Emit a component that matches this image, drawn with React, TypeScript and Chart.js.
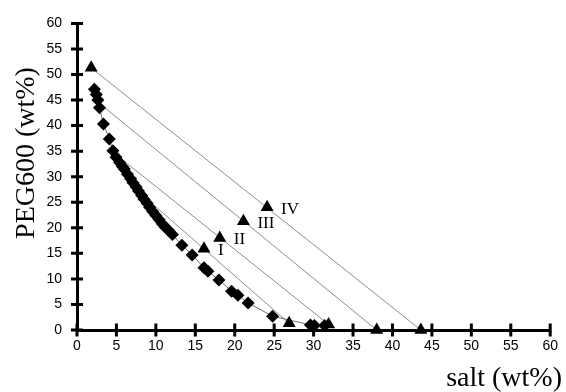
import React, { useEffect, useRef } from "react";
import { Chart, registerables } from "chart.js";

Chart.register(...registerables);

// Binodal curve (diamonds)
const binodalX = [2.2, 2.45, 2.65, 2.85, 3.35, 4.1, 4.55, 4.95, 5.4, 5.75, 6.0, 6.4, 6.8, 7.1, 7.5, 7.8, 8.2, 8.5, 8.9, 9.2, 9.6, 10.0, 10.4, 10.8, 11.2, 11.6, 12.1, 13.3, 14.6, 16.1, 16.6, 18.0, 19.6, 20.4, 21.7, 24.8, 29.6, 30.1, 31.4];
const binodalY = [47.1, 46.1, 45.0, 43.5, 40.3, 37.4, 35.1, 33.8, 32.8, 32.0, 31.5, 30.5, 29.6, 28.8, 28.0, 27.2, 26.3, 25.6, 24.8, 24.0, 23.2, 22.4, 21.6, 20.8, 20.1, 19.5, 18.7, 16.6, 14.7, 12.2, 11.5, 9.8, 7.6, 6.8, 5.3, 2.7, 1.0, 0.9, 0.9];

// Tie lines I..IV (top phase -> bottom phase)
const tieTopX = [8.0, 5.2, 2.8, 1.8];
const tieTopY = [26.8, 34.0, 44.4, 51.3];
const tieBottomX = [26.9, 31.9, 38.0, 43.6];
const tieBottomY = [1.3, 1.1, 0.0, 0.0];

// Tie-line end points drawn as triangles
const endTriX = [1.8, 26.9, 31.9, 38.0, 43.6];
const endTriY = [51.3, 1.3, 1.1, 0.0, 0.0];

// Mixture (feed) points
const mixX = [16.1, 18.1, 21.1, 24.1];
const mixY = [15.9, 18.0, 21.3, 24.0];
const mixLabels = ["I", "II", "III", "IV"];

const xTitle = "salt (wt%)";
const yTitle = "PEG600 (wt%)";

const SANS = "'Liberation Sans', Arial, sans-serif";
const SERIF = "'Liberation Serif', 'Times New Roman', serif";

const decorPlugin = {
  id: "decor",
  afterDraw(chart: any) {
    const ctx = chart.ctx;
    const xs = chart.scales.x;
    const ys = chart.scales.y;
    const y0 = ys.getPixelForValue(0);
    const x0 = xs.getPixelForValue(0);
    ctx.save();
    ctx.strokeStyle = "#000";
    ctx.lineWidth = 3;
    ctx.beginPath();
    xs.ticks.forEach((t: any) => {
      const px = xs.getPixelForValue(t.value);
      ctx.moveTo(px, y0 - 6.5);
      ctx.lineTo(px, y0 + 6.5);
    });
    ys.ticks.forEach((t: any) => {
      const py = ys.getPixelForValue(t.value);
      ctx.moveTo(x0 - 6, py);
      ctx.lineTo(x0 + 6, py);
    });
    ctx.stroke();

    // mixture labels
    const meta = chart.getDatasetMeta(1);
    ctx.fillStyle = "#000";
    ctx.font = `17px ${SERIF}`;
    ctx.textAlign = "left";
    ctx.textBaseline = "middle";
    meta.data.forEach((el: any, i: number) => {
      ctx.fillText(mixLabels[i], el.x + 14, el.y + 2);
    });

    // axis titles
    ctx.font = `28px ${SERIF}`;
    ctx.textBaseline = "alphabetic";
    ctx.textAlign = "right";
    ctx.fillText(xTitle, 562, 386);
    ctx.translate(34, 153);
    ctx.rotate(-Math.PI / 2);
    ctx.textAlign = "center";
    ctx.fillText(yTitle, 0, 0);
    ctx.restore();
  },
};

export default function App() {
  const ref = useRef<HTMLCanvasElement | null>(null);
  useEffect(() => {
    document.body.style.margin = "0";
    const canvas = ref.current!;
    const lineColor = "#707070";
    const tieSets = tieTopX.map((_, i) => ({
      type: "line" as const,
      data: [
        { x: tieTopX[i], y: tieTopY[i] },
        { x: tieBottomX[i], y: tieBottomY[i] },
      ],
      borderColor: lineColor,
      borderWidth: 0.8,
      pointRadius: 0,
      showLine: true,
      fill: false,
      clip: false as any,
      order: 10,
    }));
    const chart = new Chart(canvas, {
      type: "scatter",
      data: {
        datasets: [
          {
            data: endTriX.map((x, i) => ({ x, y: endTriY[i] })),
            pointStyle: "triangle",
            pointRadius: 7.5,
            backgroundColor: "#000",
            borderColor: "#000",
            borderWidth: 0,
            clip: false as any,
            order: 0,
          },
          {
            data: mixX.map((x, i) => ({ x, y: mixY[i] })),
            pointStyle: "triangle",
            pointRadius: 7.5,
            backgroundColor: "#000",
            borderColor: "#000",
            borderWidth: 0,
            clip: false as any,
            order: 1,
          },
          {
            data: binodalX.map((x, i) => ({ x, y: binodalY[i] })),
            pointStyle: "rectRot",
            pointRadius: 6.5,
            pointBackgroundColor: "#000",
            pointBorderColor: "#000",
            pointBorderWidth: 0,
            showLine: true,
            borderColor: lineColor,
            borderWidth: 1,
            clip: false as any,
            order: 2,
          } as any,
          ...tieSets,
        ],
      },
      options: {
        responsive: false,
        animation: false,
        layout: { padding: { top: 20, right: 13, left: 0, bottom: 0 } },
        plugins: { legend: { display: false }, tooltip: { enabled: false } },
        scales: {
          x: {
            type: "linear",
            min: 0,
            max: 60,
            afterFit: (s: any) => {
              s.height = 62;
            },
            ticks: {
              stepSize: 5,
              color: "#000",
              padding: 8,
              font: { family: SANS, size: 14 },
              maxRotation: 0,
            },
            grid: { drawOnChartArea: false, drawTicks: false, tickLength: 0, color: "#000" },
            border: { display: true, color: "#000", width: 3 },
          },
          y: {
            type: "linear",
            min: 0,
            max: 60,
            afterFit: (s: any) => {
              s.width = 77;
            },
            ticks: {
              stepSize: 5,
              color: "#000",
              padding: 15,
              font: { family: SANS, size: 14 },
            },
            grid: { drawOnChartArea: false, drawTicks: false, tickLength: 0, color: "#000" },
            border: { display: true, color: "#000", width: 3 },
          },
        },
      } as any,
      plugins: [decorPlugin],
    });
    return () => chart.destroy();
  }, []);
  return (
    <div style={{ position: "absolute", left: 0, top: 0, width: 566, height: 392, background: "#fff" }}>
      <canvas ref={ref} width={566} height={392} />
    </div>
  );
}
